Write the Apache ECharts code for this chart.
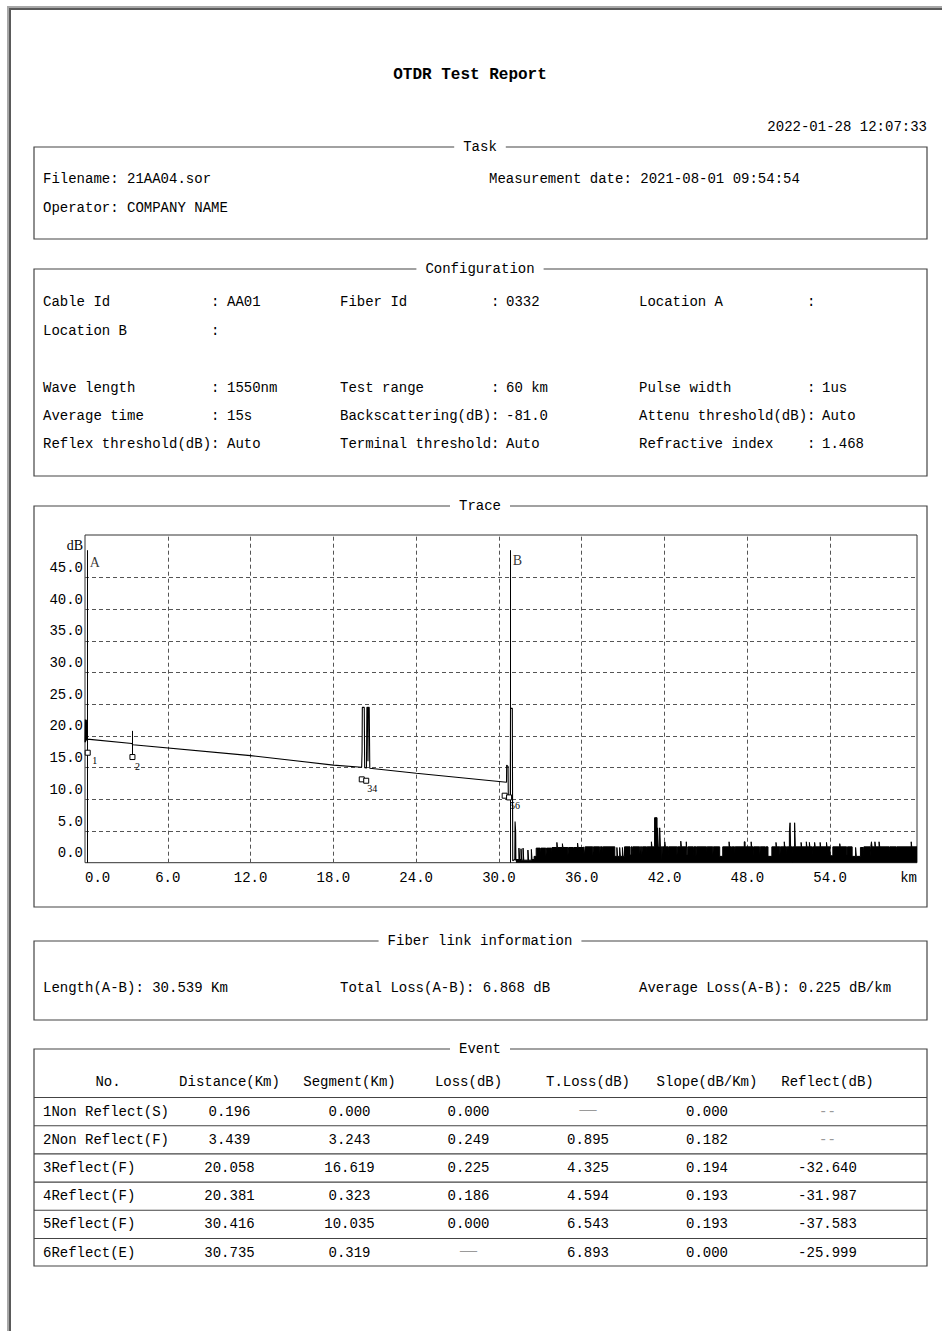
<!DOCTYPE html>
<html><head><meta charset="utf-8">
<script src="https://cdn.jsdelivr.net/npm/echarts@6.0.0/dist/echarts.min.js"></script>
<style>html,body{margin:0;padding:0;background:#fff}#main{width:942px;height:1331px}</style>
</head><body><div id="main"></div>
<script>
// ---------- data ----------
const reportTitle = 'OTDR Test Report';
const printDate = '2022-01-28 12:07:33';
const taskFile = 'Filename: 21AA04.sor';
const taskDate = 'Measurement date: 2021-08-01 09:54:54';
const taskOperator = 'Operator: COMPANY NAME';

const configRow1 = [['Cable Id','AA01'],['Fiber Id','0332'],['Location A','']];
const configRow2 = [['Location B','']];
const configRow3 = [['Wave length','1550nm'],['Test range','60 km'],['Pulse width','1us']];
const configRow4 = [['Average time','15s'],['Backscattering(dB)','-81.0'],['Attenu threshold(dB)','Auto']];
const configRow5 = [['Reflex threshold(dB)','Auto'],['Terminal threshold','Auto'],['Refractive index','1.468']];

const linkInfo = ['Length(A-B): 30.539 Km','Total Loss(A-B): 6.868 dB','Average Loss(A-B): 0.225 dB/km'];

const eventHeaders = ['No.','Distance(Km)','Segment(Km)','Loss(dB)','T.Loss(dB)','Slope(dB/Km)','Reflect(dB)'];
const eventNo = ['1Non Reflect(S)','2Non Reflect(F)','3Reflect(F)','4Reflect(F)','5Reflect(F)','6Reflect(E)'];
const eventDistance = [0.196,3.439,20.058,20.381,30.416,30.735];
const eventSegment = ['0.000','3.243','16.619','0.323','10.035','0.319'];
const eventLoss = ['0.000','0.249','0.225','0.186','0.000','—'];
const eventTLoss = ['—','0.895','4.325','4.594','6.543','6.893'];
const eventSlope = ['0.000','0.182','0.194','0.193','0.193','0.000'];
const eventReflect = ['--','--','-32.640','-31.987','-37.583','-25.999'];

// trace axes
const xTicks = [0,6,12,18,24,30,36,42,48,54];
const yTicks = [0,5,10,15,20,25,30,35,40,45];
const xMax = 60.3, yMax = 51.7;

// main trace (km, dB)
const traceKm = [0,0.02,0.04,0.06,0.08,0.10,0.13,0.16,3.40,3.48,12.0,18.0,20.05,20.08,20.10,20.24,20.27,20.40,20.43,20.49,20.51,20.53,20.60,20.64,24.0,30.55,30.56,30.66,30.68,30.82,30.84,30.97,31.00,31.15,31.17,31.21,31.23];
const traceDb = [19.0,22.6,19.0,22.6,19.2,22.5,19.4,19.5,18.8,18.6,16.9,15.4,15.05,17.5,24.5,24.5,15.0,14.95,24.5,24.5,16.0,24.5,24.5,14.9,14.1,12.7,15.4,15.2,10.4,10.3,24.35,24.35,0.3,0.5,6.5,5.0,0.3];

// noise floor after fiber end (km, dB), stepped envelope
const noiseKm = [31.23,31.45,31.50,31.60,31.65,31.75,31.80,32.10,32.15,32.35,32.40,32.55,32.70,33.00,33.05,33.40,33.45,33.80,33.85,34.20,34.24,34.60,34.64,35.00,35.05,35.40,35.44,35.70,35.74,36.10,36.15,36.20,36.25,36.80,36.85,37.30,37.35,37.50,37.55,38.40,38.55,38.60,38.75,38.80,38.95,39.00,39.10,39.50,39.58,39.65,39.70,40.20,40.25,40.35,40.40,40.70,40.74,41.05,41.09,41.28,41.46,41.50,41.55,41.65,41.70,41.80,41.84,42.02,42.06,42.27,42.31,42.90,42.94,43.18,43.22,43.58,43.62,43.68,44.08,44.12,44.28,44.32,45.05,45.09,45.50,45.54,46.00,46.22,46.68,46.72,46.86,46.90,47.08,47.12,47.78,47.84,48.28,48.32,48.42,48.46,48.90,48.94,49.30,49.34,49.50,49.78,50.08,50.12,50.36,50.40,50.68,50.72,50.85,50.89,51.05,51.10,51.14,51.28,51.32,51.43,51.48,51.90,51.94,52.28,52.32,52.50,52.54,52.70,52.74,52.88,52.92,53.28,53.32,53.74,53.78,54.00,54.20,54.70,54.74,55.20,55.26,55.60,55.85,55.90,56.20,56.40,56.45,56.90,56.95,57.00,57.04,57.25,57.29,57.55,57.60,58.30,58.34,58.80,58.84,59.88,59.92,60.30];
const noiseDb = [0.5,2.3,0.5,2.2,0.4,2.3,0.4,2.0,0.4,2.1,0.5,1.0,2.3,1.2,2.3,1.0,2.3,1.3,2.4,3.2,2.4,3.0,2.4,1.2,2.4,1.4,2.4,3.1,2.4,1.3,2.5,1.2,2.5,1.0,2.5,1.2,2.5,1.1,2.5,1.0,2.4,1.0,2.4,1.0,2.4,1.0,2.5,1.2,2.5,1.2,2.5,1.1,2.5,1.1,2.5,1.2,2.5,3.3,2.5,7.1,2.5,5.5,2.5,5.5,2.5,0.2,2.5,3.3,2.5,1.0,2.5,1.1,2.5,3.4,2.5,3.3,1.2,2.5,1.1,2.5,1.0,2.5,1.2,2.5,1.1,2.5,1.0,2.5,3.3,2.5,1.1,2.5,1.0,2.5,3.3,2.5,3.3,2.5,1.1,2.5,1.0,2.5,1.2,2.5,1.0,2.5,3.2,2.5,1.1,2.5,3.3,2.5,1.0,2.5,4.8,6.3,2.5,0.1,2.5,6.3,2.5,3.2,2.5,3.3,2.5,3.2,2.5,1.2,2.5,3.2,2.5,3.2,2.5,3.2,2.5,1.1,2.5,3.0,2.5,1.2,2.5,1.0,2.4,1.0,2.4,1.1,2.5,1.0,2.5,3.3,2.5,3.3,2.5,3.3,2.5,1.2,2.5,1.1,2.5,3.3,2.5,2.5];

// event markers (drawn below the trace) and cursors
const eventMarkDb = [17.35,16.67,13.15,12.93,10.57,10.3];
const eventTag = ['1','2','','34','','56'];
const eventTagPos = [[10,11],[8,12.5],[0,0],[9,10.5],[0,0],[9,11.5]];
const cursorName = ['A','B'];
const cursorKm = [0.196,30.85];
const cursorTopDb = 49.3;

// ---------- layout ----------
const FONT = '"Liberation Mono","DejaVu Sans Mono",monospace';
const SERIF = '"Liberation Serif","DejaVu Serif",serif';
const G = [];
function txt(text, x, y, o) {
  o = o || {};
  const st = {
    text: text, x: 0, y: 0,
    font: (o.bold ? 'bold ' : '') + (o.size || 14) + 'px ' + (o.family || FONT),
    fill: o.color || '#000', align: o.align || 'left', verticalAlign: 'middle'
  };
  if (o.bg) { st.backgroundColor = o.bg; st.padding = o.pad || [0, 9]; }
  G.push({ type: 'text', x: x, y: y, z: o.z || 20, style: st });
}
function rect(x, y, w, h, fill, stroke, lw, z) {
  G.push({ type: 'rect', z: z || 10, shape: { x: x, y: y, width: w, height: h },
    style: { fill: fill || 'none', stroke: stroke || null, lineWidth: lw || 1 } });
}
function hline(x1, x2, y, color, lw) {
  G.push({ type: 'line', z: 10, shape: { x1: x1, y1: y, x2: x2, y2: y },
    style: { stroke: color || '#444', lineWidth: lw || 1 } });
}

// page border
rect(7, 6, 935, 2, '#a8a8a8');
rect(7, 6, 2, 1325, '#a8a8a8');
rect(9, 8, 933, 2, '#5a5a5a');
rect(9, 8, 2, 1323, '#5a5a5a');

txt(reportTitle, 470, 75, { bold: true, size: 16, align: 'center' });
txt(printDate, 927, 127, { align: 'right' });

const BX = 34, BW = 893;
function box(title, y1, y2) {
  rect(BX, y1, BW, y2 - y1, 'none', '#444', 1.2, 10);
  txt(title, 480, y1, { align: 'center', bg: '#fff', z: 30 });
}
box('Task', 147, 239);
box('Configuration', 269, 476);
box('Trace', 506, 907);
box('Fiber link information', 941, 1020);
box('Event', 1049, 1266);

// Task
txt(taskFile, 43, 179);
txt(taskDate, 489, 179);
txt(taskOperator, 43, 208);

// Configuration
const cfgRows = [configRow1, configRow2, [], configRow3, configRow4, configRow5];
const cfgY = [302, 331, 359, 388, 416, 444];
const cfgLabelX = [43, 340, 639], cfgColonX = [211, 491, 807], cfgValX = [227, 506, 822];
cfgRows.forEach(function (row, r) {
  row.forEach(function (it, c) {
    txt(it[0], cfgLabelX[c], cfgY[r]);
    txt(':', cfgColonX[c], cfgY[r]);
    if (it[1]) txt(it[1], cfgValX[c], cfgY[r]);
  });
});

// Fiber link information
[43, 340, 639].forEach(function (x, i) { txt(linkInfo[i], x, 988); });

// Event table
const colX = [108, 229.5, 349.5, 468.5, 588, 707, 827.5];
eventHeaders.forEach(function (h, i) { txt(h, colX[i], 1082, { align: 'center' }); });
const lineY = [1097.5, 1125.7, 1153.9, 1182.1, 1210.3, 1238.5];
lineY.forEach(function (y) { hline(BX, BX + BW, y, '#444', 1.1); });
eventNo.forEach(function (n, r) {
  const y = 1111.6 + r * 28.2;
  const cells = [eventDistance[r].toFixed(3), eventSegment[r], eventLoss[r], eventTLoss[r], eventSlope[r], eventReflect[r]];
  txt(n, 43, y);
  cells.forEach(function (c, k) {
    if (c === '—') txt(c, colX[k + 1], y - 3, { align: 'center', color: '#9a9a9a', family: SERIF, size: 17 });
    else if (c === '--') txt(c, colX[k + 1], y, { align: 'center', color: '#9a9a9a' });
    else txt(c, colX[k + 1], y, { align: 'center' });
  });
});

txt('dB', 83, 545, { align: 'right', size: 14, family: SERIF });

// ---------- chart ----------
function zip(a, b) { return a.map(function (v, i) { return [v, b[i]]; }); }
const chart = echarts.init(document.getElementById('main'), null, { renderer: 'svg', width: 942, height: 1331 });
const option = {
  animation: false,
  backgroundColor: '#fff',
  graphic: { elements: G },
  grid: { left: 85, right: 25, top: 535, bottom: 468.3, show: true, borderColor: '#333', borderWidth: 1, backgroundColor: 'transparent' },
  xAxis: {
    type: 'value', min: 0, max: xMax,
    axisLine: { show: false }, axisTick: { show: false }, splitLine: { show: false },
    axisLabel: {
      customValues: xTicks.concat([xMax]),
      formatter: function (v) { return v >= xMax - 0.01 ? 'km' : v.toFixed(1); },
      fontFamily: FONT, fontSize: 14, color: '#000', margin: 8,
      alignMinLabel: 'left', alignMaxLabel: 'right', showMinLabel: true, showMaxLabel: true
    }
  },
  yAxis: {
    type: 'value', min: 0, max: yMax,
    axisLine: { show: false }, axisTick: { show: false }, splitLine: { show: false },
    axisLabel: {
      customValues: yTicks,
      formatter: function (v) { return v.toFixed(1); },
      fontFamily: FONT, fontSize: 14, color: '#000', margin: 2, verticalAlign: 'bottom', lineHeight: 15,
      padding: [0, 0, 2, 0]
    }
  },
  series: [
    {
      type: 'line', name: 'grid', data: [[0, 0]], showSymbol: false, lineStyle: { width: 0 }, silent: true,
      markLine: {
        silent: true, symbol: ['none', 'none'], label: { show: false },
        lineStyle: { type: [4, 3], color: '#555', width: 1 },
        data: xTicks.slice(1).map(function (v) { return { xAxis: v }; })
          .concat(yTicks.slice(1).map(function (v) { return { yAxis: v }; }))
      }
    },
    {
      type: 'line', name: 'trace', data: zip(traceKm, traceDb), showSymbol: false,
      lineStyle: { color: '#000', width: 1.1 }, z: 5
    },
    {
      type: 'line', name: 'noise', data: zip(noiseKm, noiseDb), showSymbol: false, step: 'end',
      lineStyle: { color: '#000', width: 1 }, areaStyle: { color: '#000', opacity: 1 }, z: 5
    },
    {
      type: 'scatter', name: 'cursors', data: zip(cursorKm, [47.4, 47.65]), symbolSize: 0, z: 6,
      label: { show: true, position: 'right', distance: 2, formatter: function (p) { return cursorName[p.dataIndex]; },
        fontFamily: SERIF, fontSize: 14, color: '#000' },
      markLine: {
        silent: true, symbol: ['none', 'none'], label: { show: false },
        lineStyle: { type: 'solid', color: '#000', width: 1 },
        data: cursorKm.map(function (k) { return [{ coord: [k, 0] }, { coord: [k, cursorTopDb] }]; })
      }
    },
    {
      type: 'scatter', name: 'events', symbol: 'rect', symbolSize: 5, z: 7, color: '#000',
      itemStyle: { color: '#fff', borderColor: '#000', borderWidth: 1, opacity: 1 },
      label: { color: '#000' },
      data: eventDistance.map(function (d, i) {
        return { value: [d, eventMarkDb[i]],
          label: { show: !!eventTag[i], position: eventTagPos[i], align: 'center', verticalAlign: 'middle',
            formatter: eventTag[i], fontFamily: SERIF, fontSize: 10, color: '#000', textBorderWidth: 0 } };
      }),
      markLine: {
        silent: true, symbol: ['none', 'none'], label: { show: false },
        lineStyle: { type: 'solid', color: '#000', width: 1 },
        data: [[{ coord: [eventDistance[1], eventMarkDb[1]] }, { coord: [eventDistance[1], 20.8] }]]
      }
    }
  ]
};
chart.setOption(option);
</script></body></html>
